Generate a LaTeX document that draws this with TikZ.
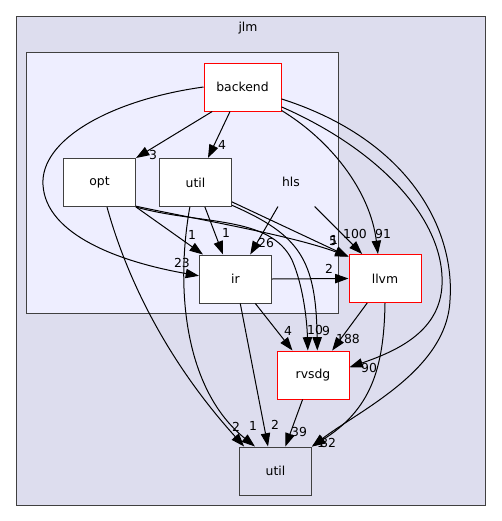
\documentclass[tikz,border=0pt]{standalone}
\usepackage{fontspec}
\setmainfont{DejaVu Sans}
\usetikzlibrary{arrows.meta}

\definecolor{outerfill}{HTML}{DDDDEE}
\definecolor{innerfill}{HTML}{EEEEFF}
\definecolor{framegray}{HTML}{404040}

\tikzset{every picture/.style={line width=0.75pt}}
\tikzset{
  dirbox/.style={draw=framegray, fill=white, minimum width=54pt, minimum height=36pt, inner sep=0pt},
  baddir/.style={dirbox, draw=red},
  plaindir/.style={minimum width=54pt, minimum height=36pt, inner sep=0pt},
  dep/.style={-{Triangle[length=10pt,width=7pt]}},
  num/.style={inner sep=0.75pt},
}

\begin{document}
\begin{tikzpicture}[x=0.75pt,y=0.75pt,yscale=-1,xscale=1,
  every node/.style={font=\fontsize{9.3}{11}\selectfont}]
\useasboundingbox (0,0) rectangle (501,521);

%Shape: Rectangle (jlm)
\draw [draw=framegray, fill=outerfill] (16,16) rectangle (485,505) ;
%Shape: Rectangle (inner cluster)
\draw [draw=framegray, fill=innerfill] (26,52) rectangle (338,313) ;

% Text Node
\node (jlm) at (248,28) {jlm};

% Directory Nodes
\node [baddir, minimum width=57.75pt] (backend) at (242.5,87) {backend};
\node [dirbox] (opt) at (99.5,182.5) {opt};
\node [dirbox] (util) at (195.5,182.5) {util};
\node [plaindir] (hls) at (291,182) {hls};
\node [dirbox] (ir) at (235.5,279) {ir};
\node [baddir] (llvm) at (385,278.5) {llvm};
\node [baddir] (rvsdg) at (313,375) {rvsdg};
\node [dirbox, fill=outerfill] (utilout) at (275.5,471) {util};

% Dependencies from backend
\draw [dep] (backend.-141) -- (opt.north east) ;
\draw [dep] (backend.-117) -- (util.63) ;
\draw [dep] (backend.west) .. controls (110,100) and (40,140) .. (43,185) .. controls (46,235) and (120,262) .. (ir.175) ;
\draw [dep] (backend.-31) .. controls (330,140) and (370,190) .. (llvm.106) ;
\draw [dep] (backend.-27) .. controls (380,150) and (445,220) .. (442,285) .. controls (440,330) and (400,350) .. (rvsdg.12) ;
\draw [dep] (backend.-17) .. controls (410,140) and (455,230) .. (450,300) .. controls (447,370) and (360,410) .. (utilout.north east) ;

% Dependencies from opt
\draw [dep] (opt.south east) -- (ir.143) ;
\draw [dep] (opt.-33) .. controls (200,220) and (290,235) .. (llvm.149) ;
\draw [dep] (opt.-34) .. controls (200,225) and (270,215) .. (292,260) .. controls (303,285) and (307,320) .. (rvsdg.102) ;
\draw [dep] (opt.-73) .. controls (130,290) and (175,370) .. (utilout.142) ;

% Dependencies from util
\draw [dep] (util.-69) -- (ir.117) ;
\draw [dep] (util.-28) -- (llvm.149) ;
\draw [dep] (util.-32) .. controls (300,235) and (316,260) .. (rvsdg.80) ;
\draw [dep] (util.-103) .. controls (175,290) and (185,390) .. (utilout.130) ;

% Dependencies from hls
\draw [dep] (hls.-118) -- (ir.59) ;
\draw [dep] (hls.-46) -- (llvm.133) ;

% Dependencies from ir, llvm, rvsdg
\draw [dep] (ir.east) -- (llvm.west) ;
\draw [dep] (ir.-51) -- (rvsdg.130) ;
\draw [dep] (ir.-79) -- (utilout.107) ;
\draw [dep] (llvm.-126) -- (rvsdg.52) ;
\draw [dep] (llvm.south) .. controls (384,370) and (370,410) .. (utilout.north east) ;
\draw [dep] (rvsdg.-113) -- (utilout.68) ;

% Edge Labels
\node [num] (nbo) at (153,155) {3};
\node [num] (nbu) at (222,145) {4};
\node [num] (nbi) at (182,263) {23};
\node [num] (nbl) at (383,234) {91};
\node [num] (nbr) at (369,368) {90};
\node [num] (nbU) at (328,443) {82};
\node [num] (noi) at (192,235) {1};
\node [num] (nol) at (333,241) {5};
\node [num] (nor) at (315,330) {10};
\node [num] (noU) at (236,427) {2};
\node [num] (nui) at (226,233) {1};
\node [num] (nul) at (334,240) {1};
\node [num] (nur) at (326,331) {9};
\node [num] (nuU) at (253,426) {1};
\node [num] (nhi) at (266,243) {26};
\node [num] (nhl) at (355,234) {100};
\node [num] (nil) at (329,269) {2};
\node [num] (nir) at (288,331) {4};
\node [num] (niU) at (275,425) {2};
\node [num] (nlr) at (348,339) {188};
\node [num] (nlU) at (321,443) {1};
\node [num] (nrU) at (299,432) {39};

\end{tikzpicture}
\end{document}
